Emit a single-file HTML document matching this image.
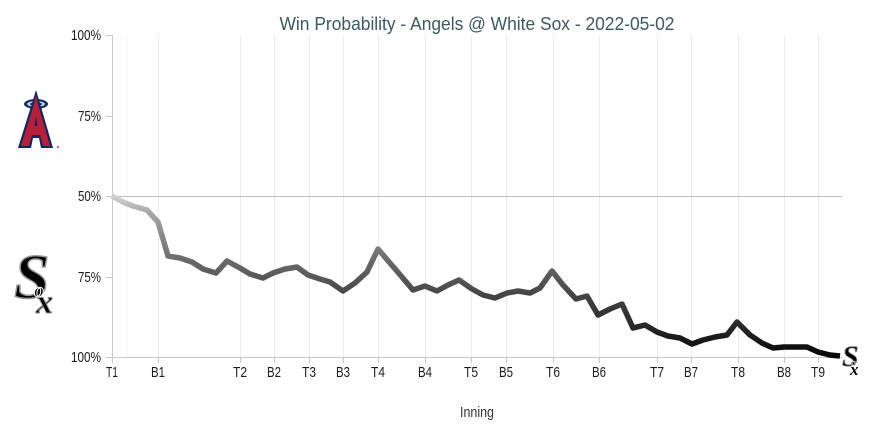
<!DOCTYPE html>
<html>
<head>
<meta charset="utf-8">
<style>
html,body{margin:0;padding:0;background:#fff;}
svg{display:block;}
.t{font-family:"Liberation Sans",sans-serif;font-size:15px;fill:#1c1c1c;}
</style>
</head>
<body>
<svg width="881" height="429" viewBox="0 0 881 429" xmlns="http://www.w3.org/2000/svg">
<defs>
<linearGradient id="g" gradientUnits="userSpaceOnUse" x1="0" y1="196" x2="0" y2="357">
<stop offset="0" stop-color="#d2d2d2"/>
<stop offset="0.1" stop-color="#a8a8a8"/>
<stop offset="0.37" stop-color="#707070"/>
<stop offset="0.5" stop-color="#595959"/>
<stop offset="0.62" stop-color="#444"/>
<stop offset="0.8" stop-color="#2a2a2a"/>
<stop offset="1" stop-color="#050505"/>
</linearGradient>
</defs>
<rect width="881" height="429" fill="#fff"/>
<text x="477" y="30" text-anchor="middle" font-family="Liberation Sans, sans-serif" font-size="18" textLength="395" lengthAdjust="spacingAndGlyphs" fill="#3b5a5e">Win Probability - Angels @ White Sox - 2022-05-02</text>

<g stroke="#ececec" stroke-width="1">
<line x1="127.5" y1="35" x2="127.5" y2="357" stroke="#f4f4f4"/>
<line x1="158.5" y1="35" x2="158.5" y2="357"/>
<line x1="240.5" y1="35" x2="240.5" y2="357"/>
<line x1="274.5" y1="35" x2="274.5" y2="357"/>
<line x1="309.5" y1="35" x2="309.5" y2="357"/>
<line x1="343.5" y1="35" x2="343.5" y2="357"/>
<line x1="378.5" y1="35" x2="378.5" y2="357"/>
<line x1="425.5" y1="35" x2="425.5" y2="357"/>
<line x1="471.5" y1="35" x2="471.5" y2="357"/>
<line x1="506.5" y1="35" x2="506.5" y2="357"/>
<line x1="553.5" y1="35" x2="553.5" y2="357"/>
<line x1="599.5" y1="35" x2="599.5" y2="357"/>
<line x1="657.5" y1="35" x2="657.5" y2="357"/>
<line x1="691.5" y1="35" x2="691.5" y2="357"/>
<line x1="738.5" y1="35" x2="738.5" y2="357"/>
<line x1="784.5" y1="35" x2="784.5" y2="357"/>
<line x1="818.5" y1="35" x2="818.5" y2="357"/>
</g>

<g stroke="#c8c8c8" stroke-width="1">
<line x1="112.5" y1="35" x2="112.5" y2="357"/>
<line x1="112" y1="357.5" x2="842" y2="357.5"/>
<line x1="112" y1="196.5" x2="842" y2="196.5" stroke="#bdbdbd"/>
<line x1="106" y1="35.5" x2="112" y2="35.5"/>
<line x1="106" y1="116.5" x2="112" y2="116.5"/>
<line x1="106" y1="196.5" x2="112" y2="196.5"/>
<line x1="106" y1="277.5" x2="112" y2="277.5"/>
<line x1="106" y1="357.5" x2="112" y2="357.5"/>
</g>
<g stroke="#c8c8c8" stroke-width="1">
<line x1="112.5" y1="357" x2="112.5" y2="363"/>
<line x1="158.5" y1="357" x2="158.5" y2="363"/>
<line x1="240.5" y1="357" x2="240.5" y2="363"/>
<line x1="274.5" y1="357" x2="274.5" y2="363"/>
<line x1="309.5" y1="357" x2="309.5" y2="363"/>
<line x1="343.5" y1="357" x2="343.5" y2="363"/>
<line x1="378.5" y1="357" x2="378.5" y2="363"/>
<line x1="425.5" y1="357" x2="425.5" y2="363"/>
<line x1="471.5" y1="357" x2="471.5" y2="363"/>
<line x1="506.5" y1="357" x2="506.5" y2="363"/>
<line x1="553.5" y1="357" x2="553.5" y2="363"/>
<line x1="599.5" y1="357" x2="599.5" y2="363"/>
<line x1="657.5" y1="357" x2="657.5" y2="363"/>
<line x1="691.5" y1="357" x2="691.5" y2="363"/>
<line x1="738.5" y1="357" x2="738.5" y2="363"/>
<line x1="784.5" y1="357" x2="784.5" y2="363"/>
<line x1="818.5" y1="357" x2="818.5" y2="363"/>
</g>

<g class="t">
<text x="71" y="40" textLength="30" lengthAdjust="spacingAndGlyphs">100%</text>
<text x="78" y="121" textLength="23" lengthAdjust="spacingAndGlyphs">75%</text>
<text x="78" y="201" textLength="23" lengthAdjust="spacingAndGlyphs">50%</text>
<text x="78" y="282" textLength="23" lengthAdjust="spacingAndGlyphs">75%</text>
<text x="71" y="362" textLength="30" lengthAdjust="spacingAndGlyphs">100%</text>
</g>
<g class="t">
<text x="106" y="377" textLength="12" lengthAdjust="spacingAndGlyphs">T1</text>
<text x="151" y="377" textLength="14" lengthAdjust="spacingAndGlyphs">B1</text>
<text x="233" y="377" textLength="14" lengthAdjust="spacingAndGlyphs">T2</text>
<text x="267" y="377" textLength="14" lengthAdjust="spacingAndGlyphs">B2</text>
<text x="302" y="377" textLength="14" lengthAdjust="spacingAndGlyphs">T3</text>
<text x="336" y="377" textLength="14" lengthAdjust="spacingAndGlyphs">B3</text>
<text x="371" y="377" textLength="14" lengthAdjust="spacingAndGlyphs">T4</text>
<text x="418" y="377" textLength="14" lengthAdjust="spacingAndGlyphs">B4</text>
<text x="464" y="377" textLength="14" lengthAdjust="spacingAndGlyphs">T5</text>
<text x="499" y="377" textLength="14" lengthAdjust="spacingAndGlyphs">B5</text>
<text x="546" y="377" textLength="14" lengthAdjust="spacingAndGlyphs">T6</text>
<text x="592" y="377" textLength="14" lengthAdjust="spacingAndGlyphs">B6</text>
<text x="650" y="377" textLength="14" lengthAdjust="spacingAndGlyphs">T7</text>
<text x="684" y="377" textLength="14" lengthAdjust="spacingAndGlyphs">B7</text>
<text x="731" y="377" textLength="14" lengthAdjust="spacingAndGlyphs">T8</text>
<text x="777" y="377" textLength="14" lengthAdjust="spacingAndGlyphs">B8</text>
<text x="811" y="377" textLength="14" lengthAdjust="spacingAndGlyphs">T9</text>
<text x="460" y="417" fill="#333" textLength="34" lengthAdjust="spacingAndGlyphs">Inning</text>
</g>

<polyline fill="none" stroke="url(#g)" stroke-width="5.5" stroke-linejoin="round" stroke-linecap="butt"
points="112,196 123,202 133,206 147,210 158,222 168,256 180,258 192,262 203,269 216,273 227,261 240,268 250,274 263,278 273,273 285,269 297,267 308,275 320,279 330,282 343,291 355,283 367,272 378,249 390,263 402,277 413,290 425,286 437,291 448,285 459,280 472,289 483,295 495,298 507,293 518,291 530,293 540,288 552,271 563,285 576,299 587,296 598,315 610,309 622,304 633,328 645,325 657,332 668,336 680,338 692,344 703,340 715,337 727,335 737,322 750,335 762,343 773,348 784,347 795,347 807,347 818,352 830,355 840,356"/>

<!-- Angels logo -->
<g>
<ellipse cx="36" cy="104" rx="12" ry="5" fill="#0d2a5c"/>
<ellipse cx="36" cy="104" rx="9" ry="3" fill="#bcd0e6"/>
<ellipse cx="36" cy="104" rx="6" ry="1.6" fill="#0d2a5c"/>
<polygon points="36,90 39,100 53,148 41,148 39,138 33,138 31,148 18,148 33,100" fill="#0d2a5c"/>
<polygon points="36,95 38,104 50,146 43,146 40,135 32,135 29,146 21,146 34,104" fill="#ba1f3a"/>
<polygon points="34.5,126 36,116 37.5,126" fill="#0d2a5c"/>
<circle cx="58" cy="147" r="1" fill="#555"/>
</g>

<!-- White Sox logo -->
<g font-family="Liberation Serif, serif" font-weight="bold" font-style="italic">
<text x="14" y="298" font-size="64" fill="#000" stroke="#999" stroke-width="1.5">S</text>
<text x="34" y="297" font-size="20" fill="#000" stroke="#fff" stroke-width="1">o</text>
<text x="36" y="313" font-size="34" fill="#000" stroke="#999" stroke-width="1">x</text>
</g>
<g font-family="Liberation Serif, serif" font-weight="bold" font-style="italic">
<text x="842" y="366" font-size="30" fill="#000" stroke="#999" stroke-width="0.8">S</text>
<text x="851" y="366" font-size="10" fill="#000" stroke="#fff" stroke-width="0.5">o</text>
<text x="850" y="375" font-size="17" fill="#000">x</text>
</g>
</svg>
</body>
</html>
